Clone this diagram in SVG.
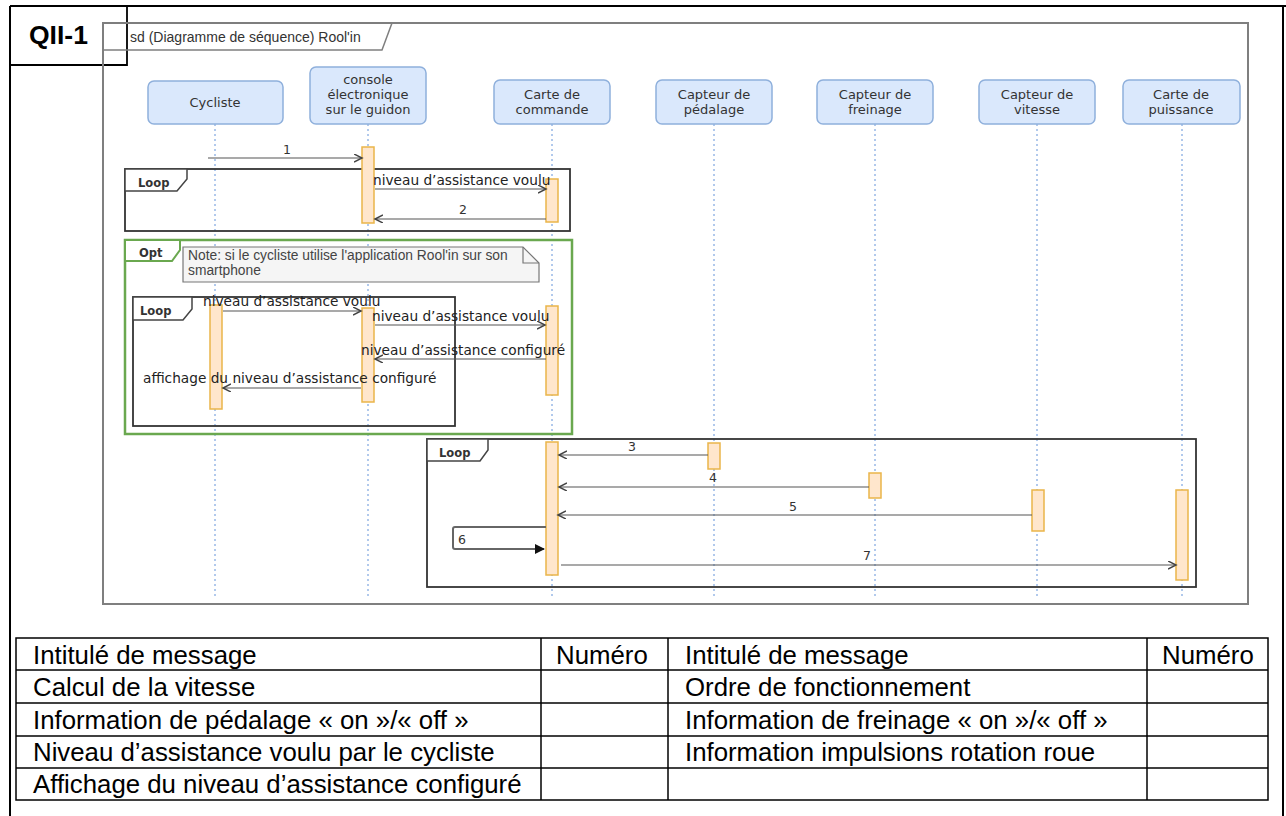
<svg xmlns="http://www.w3.org/2000/svg" width="1286" height="816" viewBox="0 0 1286 816">
<defs>
<style>
.head{fill:#dae8fc;stroke:#8fb0dc;stroke-width:1.5}
.ht{font-family:"DejaVu Sans",Verdana,sans-serif;font-size:13px;fill:#333;text-anchor:middle}
.life{stroke:#7ea6e0;stroke-width:1.2;stroke-dasharray:2 3;fill:none}
.act{fill:#ffe6cc;stroke:#eab54a;stroke-width:1.5}
.msg{stroke:#555;stroke-width:1.2;fill:none;marker-end:url(#open)}
.ml{font-family:"DejaVu Sans",Verdana,sans-serif;font-size:13.7px;fill:#222}
.num{font-family:"DejaVu Sans",Verdana,sans-serif;font-size:12.5px;fill:#333;text-anchor:middle}
.frame{fill:none;stroke:#333;stroke-width:1.8}
.tab{fill:#fff;stroke:#444;stroke-width:1.5}
.tl{font-family:"DejaVu Sans",Verdana,sans-serif;font-size:11.5px;font-weight:bold;fill:#333}
.tbl{fill:none;stroke:#000;stroke-width:1.5}
.tt{font-family:"Liberation Sans",Arial,sans-serif;font-size:25.8px;fill:#000}
</style>
<marker id="open" markerWidth="10" markerHeight="10" refX="8" refY="4" orient="auto" markerUnits="userSpaceOnUse">
<path d="M0,0 L8,4 L0,8" fill="none" stroke="#444" stroke-width="1.5"/>
</marker>
<marker id="filled" markerWidth="12" markerHeight="12" refX="9" refY="5" orient="auto" markerUnits="userSpaceOnUse">
<path d="M0,0 L10,5 L0,10 Z" fill="#111"/>
</marker>
</defs>
<rect width="1286" height="816" fill="#fff"/>
<g id="page-border" fill="none" stroke="#000" stroke-width="2">
<line x1="10" y1="6" x2="1286" y2="6"/>
<line x1="10" y1="6" x2="10" y2="816"/>
<line x1="1283" y1="6" x2="1283" y2="816"/>
<polyline points="127,6 127,65 10,65" stroke-width="1.8"/>
</g>
<text x="29" y="44" font-family="Liberation Sans,Arial,sans-serif" font-size="26.5" font-weight="bold" fill="#000">QII-1</text>
<g id="sd-frame">
<rect x="103" y="23" width="1145" height="581" fill="none" stroke="#7f7f7f" stroke-width="2"/>
<path d="M103,23 H392 L382,50 H103" fill="none" stroke="#7f7f7f" stroke-width="1.5"/>
<text x="130" y="42" font-family="Liberation Sans,Arial,sans-serif" font-size="14" fill="#333">sd (Diagramme de séquence) Rool'in</text>
</g>
<g id="lifelines">
<line class="life" x1="215" y1="124" x2="215" y2="598"/>
<line class="life" x1="368" y1="124" x2="368" y2="598"/>
<line class="life" x1="552" y1="124" x2="552" y2="598"/>
<line class="life" x1="714" y1="124" x2="714" y2="598"/>
<line class="life" x1="875" y1="124" x2="875" y2="598"/>
<line class="life" x1="1037" y1="124" x2="1037" y2="598"/>
<line class="life" x1="1182" y1="124" x2="1182" y2="598"/>
</g>
<g id="cycliste"><rect class="head" x="148" y="81" width="135" height="43" rx="6"/><text class="ht" x="215" y="107">Cycliste</text></g>
<g id="console"><rect class="head" x="310" y="67" width="116" height="57" rx="6"/><text class="ht" x="368" y="84">console</text><text class="ht" x="368" y="99">électronique</text><text class="ht" x="368" y="114">sur le guidon</text></g>
<g id="carte-commande"><rect class="head" x="494" y="80" width="116" height="44" rx="6"/><text class="ht" x="552" y="99">Carte de</text><text class="ht" x="552" y="114">commande</text></g>
<g id="capteur-pedalage"><rect class="head" x="656" y="80" width="116" height="44" rx="6"/><text class="ht" x="714" y="99">Capteur de</text><text class="ht" x="714" y="114">pédalage</text></g>
<g id="capteur-freinage"><rect class="head" x="817" y="80" width="116" height="44" rx="6"/><text class="ht" x="875" y="99">Capteur de</text><text class="ht" x="875" y="114">freinage</text></g>
<g id="capteur-vitesse"><rect class="head" x="979" y="80" width="116" height="44" rx="6"/><text class="ht" x="1037" y="99">Capteur de</text><text class="ht" x="1037" y="114">vitesse</text></g>
<g id="carte-puissance"><rect class="head" x="1123" y="80" width="117" height="44" rx="6"/><text class="ht" x="1181" y="99">Carte de</text><text class="ht" x="1181" y="114">puissance</text></g>

<g id="fragments">
<g id="loop1">
<rect class="frame" x="125" y="169" width="445" height="62"/>
<path class="tab" d="M125,169 H187 V179 L177,191 H125 Z"/>
<text class="tl" x="138" y="187">Loop</text>
</g>
<g id="opt">
<rect x="125" y="240" width="447" height="194" fill="none" stroke="#6aa84f" stroke-width="2.5"/>
<path d="M125,240 H180 V250 L172,261 H125 Z" fill="#fff" stroke="#6aa84f" stroke-width="2"/>
<text class="tl" x="139" y="257">Opt</text>
</g>
<g id="note">
<path d="M183,247 H523 L539,263 V282 H183 Z" fill="#f5f5f5" stroke="#777" stroke-width="1.2"/>
<path d="M523,247 V263 H539" fill="none" stroke="#777" stroke-width="1.2"/>
<text x="188" y="260" font-family="Liberation Sans,Arial,sans-serif" font-size="13.8" fill="#444">Note: si le cycliste utilise l'application Rool'in sur son</text>
<text x="188" y="275" font-family="Liberation Sans,Arial,sans-serif" font-size="13.8" fill="#444">smartphone</text>
</g>
<g id="loop2">
<rect class="frame" x="133" y="297" width="322" height="129"/>
<path class="tab" d="M133,297 H192 V309 L183,320 H133 Z"/>
<text class="tl" x="140" y="315">Loop</text>
</g>
<g id="loop3">
<rect class="frame" x="427" y="439" width="769" height="148"/>
<path class="tab" d="M427,439 H488 V450 L480,461 H427 Z"/>
<text class="tl" x="439" y="457">Loop</text>
</g>
</g>

<g id="activations">
<rect class="act" x="362" y="147" width="12" height="76"/>
<rect class="act" x="546" y="179" width="12" height="43"/>
<rect class="act" x="210" y="305" width="12" height="104"/>
<rect class="act" x="362" y="308" width="12" height="94"/>
<rect class="act" x="546" y="306" width="12" height="89"/>
<rect class="act" x="546" y="442" width="12" height="133"/>
<rect class="act" x="708" y="443" width="12" height="26"/>
<rect class="act" x="869" y="473" width="12" height="25"/>
<rect class="act" x="1032" y="490" width="12" height="41"/>
<rect class="act" x="1176" y="490" width="12" height="90"/>
</g>

<g id="connectors">
<line class="msg" x1="208" y1="158" x2="362" y2="158"/>
<text class="num" x="287" y="154">1</text>
<line class="msg" x1="375" y1="189" x2="546" y2="189"/>
<text class="ml" x="373" y="185">niveau d’assistance voulu</text>
<line class="msg" x1="546" y1="219" x2="375" y2="219"/>
<text class="num" x="463" y="214">2</text>

<line class="msg" x1="223" y1="311" x2="361" y2="311"/>
<text class="ml" x="203" y="306">niveau d’assistance voulu</text>
<line class="msg" x1="375" y1="325" x2="545" y2="325"/>
<text class="ml" x="372" y="321">niveau d’assistance voulu</text>
<line class="msg" x1="546" y1="359" x2="375" y2="359"/>
<text class="ml" x="361" y="355">niveau d’assistance configuré</text>
<line class="msg" x1="361" y1="388" x2="223" y2="388"/>
<text class="ml" x="143" y="383">affichage du niveau d’assistance configuré</text>

<line class="msg" x1="708" y1="455" x2="559" y2="455"/>
<text class="num" x="632" y="451">3</text>
<line class="msg" x1="869" y1="487" x2="559" y2="487"/>
<text class="num" x="713" y="482">4</text>
<line class="msg" x1="1032" y1="515" x2="558" y2="515"/>
<text class="num" x="793" y="511">5</text>
<path d="M546,527 H455 Q453,527 453,529 V547 Q453,549 455,549 H544" fill="none" stroke="#666" stroke-width="2" marker-end="url(#filled)"/>
<text class="num" x="462" y="544">6</text>
<line class="msg" x1="561" y1="565" x2="1176" y2="565"/>
<text class="num" x="867" y="560">7</text>
</g>

<g id="table">
<rect class="tbl" x="16" y="638" width="1252" height="162"/>
<line class="tbl" x1="16" y1="670" x2="1268" y2="670"/>
<line class="tbl" x1="16" y1="703" x2="1268" y2="703"/>
<line class="tbl" x1="16" y1="736" x2="1268" y2="736"/>
<line class="tbl" x1="16" y1="768" x2="1268" y2="768"/>
<line class="tbl" x1="541" y1="638" x2="541" y2="800"/>
<line class="tbl" x1="668" y1="638" x2="668" y2="800"/>
<line class="tbl" x1="1147" y1="638" x2="1147" y2="800"/>
<text class="tt" x="33" y="664">Intitulé de message</text>
<text class="tt" x="556" y="664">Numéro</text>
<text class="tt" x="685" y="664">Intitulé de message</text>
<text class="tt" x="1162" y="664">Numéro</text>
<text class="tt" x="33" y="696">Calcul de la vitesse</text>
<text class="tt" x="685" y="696">Ordre de fonctionnement</text>
<text class="tt" x="33" y="729">Information de pédalage « on »/« off »</text>
<text class="tt" x="685" y="729">Information de freinage « on »/« off »</text>
<text class="tt" x="33" y="761">Niveau d’assistance voulu par le cycliste</text>
<text class="tt" x="685" y="761">Information impulsions rotation roue</text>
<text class="tt" x="33" y="793">Affichage du niveau d’assistance configuré</text>
</g>
</svg>
